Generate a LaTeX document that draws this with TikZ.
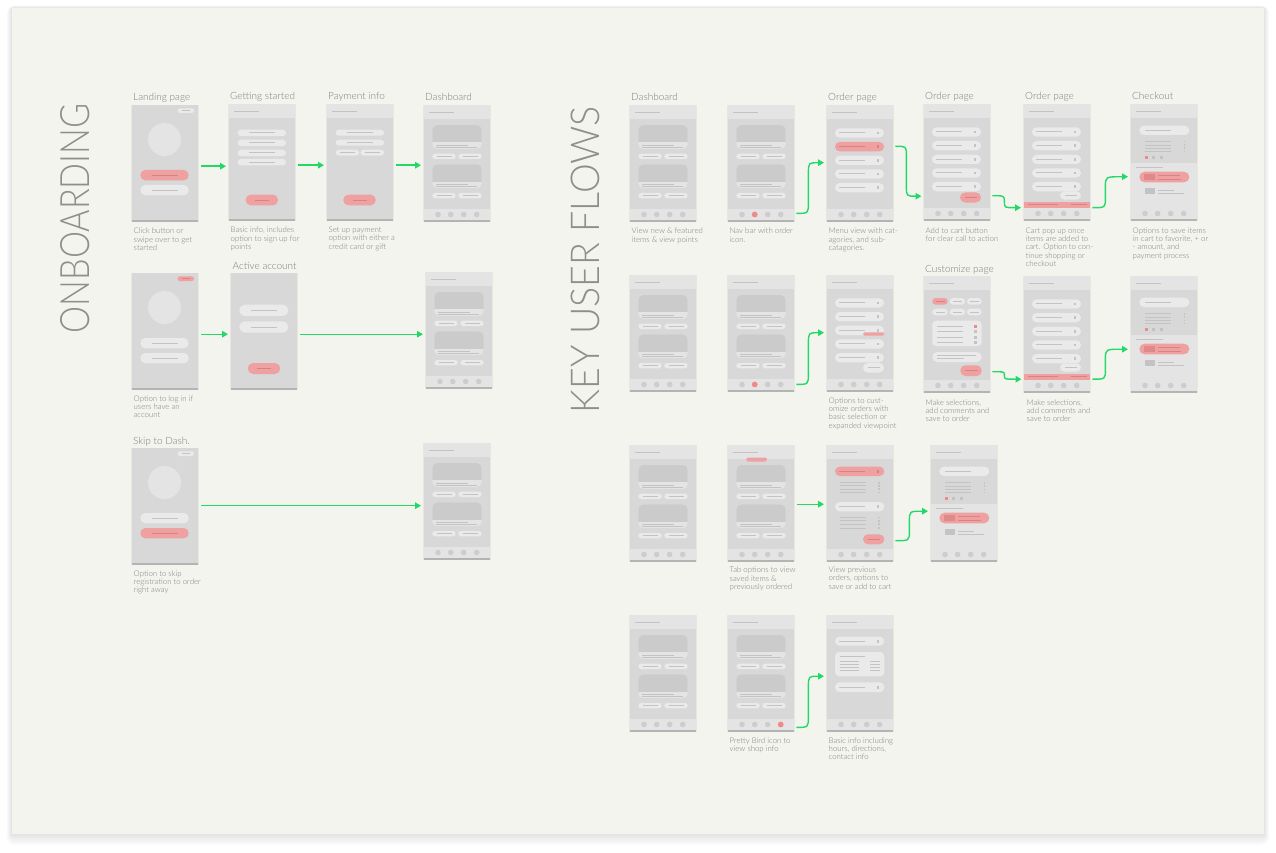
\documentclass[tikz,border=0pt]{standalone}
\usepackage{fontspec}
\usepackage{graphicx}
\IfFontExistsTF{Lato Light}{\setmainfont{Lato Light}}{\setmainfont{Lato}}
\usetikzlibrary{arrows.meta,calc}

\definecolor{paper}{HTML}{F4F4EF}
\definecolor{scr}{HTML}{D8D8D8}
\definecolor{bar}{HTML}{E4E4E4}
\definecolor{pillc}{HTML}{EAEAEA}
\definecolor{linec}{HTML}{C3C3C3}
\definecolor{imgc}{HTML}{CBCBCB}
\definecolor{dotc}{HTML}{CDCDCD}
\definecolor{redc}{HTML}{EFA0A0}
\definecolor{redln}{HTML}{D98282}
\definecolor{reddot}{HTML}{EE8A8A}
\definecolor{flowc}{HTML}{22D866}
\definecolor{txt}{HTML}{7C7C7C}
\definecolor{headc}{HTML}{8E8E8E}
\definecolor{edgec}{HTML}{B4B4B4}

\tikzset{
  body/.style={fill=scr, draw=none, inner sep=0pt, minimum width=66pt,
    minimum height=115pt, anchor=north west},
  ln/.style={draw=linec, line width=1pt},
  hair/.style={draw=linec, line width=0.75pt},
  rln/.style={draw=redln, line width=1pt},
  pf g/.style={fill=pillc}, pf r/.style={fill=redc},
  pl g/.style={draw=linec, line width=0.85pt},
  pl r/.style={draw=redln, line width=0.85pt},
  flow/.style={draw=flowc, line width=1.4pt,
    -{Triangle[length=6pt,width=6.5pt]}},
  screentitle/.style={text=txt, font=\fontsize{10}{10}\selectfont,
    anchor=base west, inner sep=0pt},
  note/.style={text=txt, font=\fontsize{7.8}{8.3}\selectfont,
    anchor=north west, inner sep=0pt, align=left},
  bigtitle/.style={text=headc, rotate=90, inner sep=0pt},
}

% frame of a phone screen: soft shadow, darker lower edge, grey body
\newcommand\phonebase{%
  \fill[black, opacity=0.05] (-0.8,-0.4) rectangle (66.8,117.4);
  \fill[edgec] (0,1.5) rectangle (66,116.8);
  \node[body] (-body) at (0,0) {};}
% light header band with its title line
\newcommand\phonehead{%
  \fill[bar] (0,0) rectangle (66,14);
  \draw[ln] (5,7.7) -- (30,7.7);}
% bottom navigation bar; #1 = index of the highlighted icon (0 = none)
\newcommand\phonenav[1]{%
  \fill[bar] (0,104) rectangle (66,115);
  \foreach \i/\dx in {1/14,2/26.7,3/39.7,4/52.7}{%
    \ifnum\i=#1\relax
      \fill[reddot] (\dx,109.5) circle[radius=2.9pt];
    \else
      \fill[dotc] (\dx,109.5) circle[radius=2.8pt];
    \fi}}
% list row with a label line and a small square; #2 = 1 when highlighted
\newcommand\listpill[2]{%
  \ifnum#2=1\relax
    \fill[redc, rounded corners=4.6pt] (8,#1) rectangle (57,#1+9.3);
    \draw[rln] (12,#1+4.65) -- (38.3,#1+4.65);
    \fill[redln] (49.6,#1+3.25) rectangle (52.4,#1+6.05);
  \else
    \fill[pillc, rounded corners=4.6pt] (8,#1) rectangle (57,#1+9.3);
    \draw[ln] (12,#1+4.65) -- (38.3,#1+4.65);
    \fill[linec] (49.6,#1+3.25) rectangle (52.4,#1+6.05);
  \fi}

\tikzset{
  % splash screen: avatar circle and two buttons
  pics/landing/.style n args={3}{code={
    \phonebase
    \fill[pf #1, rounded corners=2.3pt] (45.5,3.3) rectangle (62,8);
    \draw[pl #1] (50,5.65) -- (57.5,5.65);
    \fill[bar] (32.5,34.5) circle[radius=16.5pt];
    \fill[pf #2, rounded corners=5pt] (8.3,65) rectangle (56.7,75.3);
    \draw[pl #2] (20,70.15) -- (45.5,70.15);
    \fill[pf #3, rounded corners=5pt] (8.3,80) rectangle (56.7,90.3);
    \draw[pl #3] (20,85.15) -- (45.5,85.15);
  }},
  % sign-up form
  pics/getstarted/.style={code={
    \phonebase \phonehead
    \foreach \y in {25.7,35.7,45.7,55}{
      \fill[pillc, rounded corners=3.2pt] (8.7,\y) rectangle (57,\y+6.5);
      \draw[ln] (20,\y+3.25) -- (46,\y+3.25);}
    \fill[redc, rounded corners=5pt] (16.7,90.7) rectangle (49,101.3);
    \draw[rln] (26,96) -- (40,96);
  }},
  % payment form
  pics/payment/.style={code={
    \phonebase \phonehead
    \foreach \y in {25.7,35.7}{
      \fill[pillc, rounded corners=3pt] (8.7,\y) rectangle (57,\y+6);
      \draw[ln] (20,\y+3) -- (46,\y+3);}
    \fill[pillc, rounded corners=3pt] (8.7,45.7) rectangle (32,51.7);
    \draw[ln] (13,48.7) -- (28,48.7);
    \fill[pillc, rounded corners=3pt] (33.5,45.7) rectangle (57,51.7);
    \draw[ln] (37.5,48.7) -- (52.5,48.7);
    \fill[redc, rounded corners=5pt] (16.3,90.7) rectangle (48.7,101.3);
    \draw[rln] (25.5,96) -- (39.5,96);
  }},
  % log-in form
  pics/activeacct/.style={code={
    \phonebase
    \fill[pillc, rounded corners=5.5pt] (8.3,31.7) rectangle (57.3,43);
    \draw[ln] (20,37.35) -- (45.5,37.35);
    \fill[pillc, rounded corners=5.5pt] (8.3,48.3) rectangle (57.3,59.7);
    \draw[ln] (20,54) -- (45.5,54);
    \fill[redc, rounded corners=5.5pt] (16.7,90) rectangle (49.3,101);
    \draw[rln] (26,95.5) -- (40,95.5);
  }},
  % home feed: two cards; #1 highlighted nav icon, #2 = 1 adds the tab marker
  pics/dashboard/.style 2 args={code={
    \phonebase \phonehead
    \ifnum#2=1\relax
      \fill[redc, rounded corners=2pt] (18.3,12.5) rectangle (39,16.5);
    \fi
    \foreach \y in {20,59.3}{
      \begin{scope}
        \clip[rounded corners=5pt] (8.3,\y) rectangle (57.7,\y+24);
        \fill[bar] (8.3,\y) rectangle (57.7,\y+24);
        \fill[imgc] (8.3,\y) rectangle (57.7,\y+17.3);
      \end{scope}
      \draw[hair] (12.3,\y+20) -- (44.3,\y+20);
      \draw[hair] (12.3,\y+22.4) -- (53.3,\y+22.4);
      \fill[pillc, rounded corners=2.6pt] (8.3,\y+28.7) rectangle (31.7,\y+34);
      \draw[pl g] (12.5,\y+31.35) -- (27.5,\y+31.35);
      \fill[pillc, rounded corners=2.6pt] (34.3,\y+28.7) rectangle (57.7,\y+34);
      \draw[pl g] (38.5,\y+31.35) -- (53.5,\y+31.35);}
    \phonenav{#1}
  }},
  % menu list; #1 highlighted row, #2 extra: 1 cart button, 2 cart bar, 3 options
  pics/orderpage/.style 2 args={code={
    \phonebase \phonehead
    \foreach \i/\y in {1/23.3,2/37,3/50.7,4/64.3,5/78}{
      \ifnum\i=#1\relax \listpill{\y}{1}\else \listpill{\y}{0}\fi}
    \ifcase#2\relax
    \or
      \fill[redc, rounded corners=5pt] (36,88.5) rectangle (57,98.5);
      \draw[rln] (40.5,93.5) -- (52.5,93.5);
    \or
      \fill[pillc, rounded corners=4.2pt] (36,87.5) rectangle (57,95.5);
      \draw[pl g] (40.5,91.5) -- (52.5,91.5);
      \fill[redc] (0,97.5) rectangle (66,104);
      \draw[rln] (4,100.75) -- (34,100.75);
      \draw[rln] (47,100.75) -- (62.5,100.75);
    \or
      \fill[redc, rounded corners=1.6pt] (36,57.3) rectangle (57.3,60.7);
      \fill[pillc, rounded corners=4.8pt] (36,88) rectangle (57,97.6);
      \draw[pl g] (40.5,92.8) -- (52.5,92.8);
    \fi
    \phonenav{0}
  }},
  % cart summary with saved items
  pics/checkout/.style={code={
    \phonebase
    \fill[bar] (0,59) rectangle (66,104);
    \phonehead
    \fill[pillc, rounded corners=4.6pt] (8.3,21.7) rectangle (58.3,31);
    \draw[ln] (13.7,26.35) -- (40.3,26.35);
    \foreach \y in {37.7,41,44.3,47.6}{
      \draw[hair] (13.7,\y) -- (40.3,\y);
      \fill[linec] (52.5,\y-0.8) rectangle (54.1,\y+0.8);}
    \fill[reddot] (14.2,52.2) rectangle (17.2,55.2);
    \fill[linec] (21.2,52.2) rectangle (24.2,55.2);
    \fill[linec] (28.8,52.2) rectangle (31.8,55.2);
    \draw[hair] (5.3,63.7) -- (31.7,63.7);
    \fill[redc, rounded corners=5.3pt] (8.3,67.7) rectangle (58.3,78.3);
    \fill[redln!75!redc] (13,69.7) rectangle (23.7,76);
    \draw[pl r] (27,71.7) -- (48.7,71.7);
    \draw[pl r] (27,75.3) -- (50,75.3);
    \fill[linec] (13.7,84.3) rectangle (24.3,90.3);
    \draw[hair] (27,86.3) -- (43,86.3);
    \draw[hair] (27,89.3) -- (53.3,89.3);
    \phonenav{0}
  }},
  % item options, comment box and save button
  pics/customize/.style={code={
    \phonebase \phonehead
    \fill[redc, rounded corners=3.3pt] (8.3,22) rectangle (23.7,28.7);
    \draw[pl r] (11.5,25.35) -- (20.5,25.35);
    \foreach \a/\b in {25.7/41,43/57.7}{
      \fill[pillc, rounded corners=3.3pt] (\a,22) rectangle (\b,28.7);
      \draw[pl g] (\a+3.2,25.35) -- (\b-3.2,25.35);}
    \foreach \a/\b in {8.3/23.7,25.7/41,43/57.7}{
      \fill[pillc, rounded corners=3.3pt] (\a,32.7) rectangle (\b,39.3);
      \draw[pl g] (\a+3.2,36) -- (\b-3.2,36);}
    \fill[pillc, rounded corners=4pt] (8.3,44.7) rectangle (57.7,70);
    \foreach \y [count=\k] in {50.3,55.7,61,66.3}{
      \draw[ln] (13,\y) -- (39,\y);
      \ifnum\k=1\relax
        \fill[reddot] (50.2,\y-1.5) rectangle (53.2,\y+1.5);
      \else
        \fill[linec] (50.2,\y-1.5) rectangle (53.2,\y+1.5);
      \fi}
    \fill[pillc, rounded corners=5pt] (8.3,76) rectangle (57.7,86);
    \draw[hair] (13,79.5) -- (52,79.5);
    \draw[hair] (13,82.5) -- (40,82.5);
    \fill[redc, rounded corners=5pt] (36.3,89.3) rectangle (57.7,100);
    \draw[rln] (40.5,94.65) -- (53.5,94.65);
    \phonenav{0}
  }},
  % previous orders with details
  pics/prevorders/.style={code={
    \phonebase \phonehead
    \fill[redc, rounded corners=4.6pt] (8,21.7) rectangle (57.3,31);
    \draw[rln] (12,26.35) -- (38,26.35);
    \fill[redln] (49.6,24.95) rectangle (52.4,27.75);
    \foreach \y in {37.7,40.7,44,47.3}{
      \draw[hair] (12.7,\y) -- (39.3,\y);
      \fill[linec] (51.2,\y-0.8) rectangle (52.8,\y+0.8);}
    \fill[pillc, rounded corners=4.6pt] (8,57) rectangle (57.3,66.3);
    \draw[ln] (12,61.65) -- (38,61.65);
    \fill[linec] (49.6,60.25) rectangle (52.4,63.05);
    \foreach \y in {72.3,75.7,79,83}{
      \draw[hair] (12.7,\y) -- (39.3,\y);
      \fill[linec] (51.2,\y-0.8) rectangle (52.8,\y+0.8);}
    \fill[redc, rounded corners=5pt] (36,89.3) rectangle (57.3,99.3);
    \draw[rln] (40.5,94.3) -- (52.8,94.3);
    \phonenav{0}
  }},
  % shop information
  pics/shopinfo/.style={code={
    \phonebase \phonehead
    \fill[pillc, rounded corners=4.5pt] (8,21.7) rectangle (57.3,30.7);
    \draw[ln] (12,26.2) -- (38,26.2);
    \fill[linec] (49.6,24.8) rectangle (52.4,27.6);
    \fill[pillc, rounded corners=4pt] (8,37) rectangle (57.3,61.3);
    \draw[hair] (12.7,41.7) -- (38.3,41.7);
    \foreach \y in {46.7,49.5,52.3,55.2}{
      \draw[hair] (12.7,\y) -- (31.7,\y);
      \draw[hair] (43.3,\y) -- (52.7,\y);}
    \fill[pillc, rounded corners=4.5pt] (8,67.3) rectangle (57.3,77);
    \draw[ln] (12,72.15) -- (38,72.15);
    \fill[linec] (49.6,70.75) rectangle (52.4,73.55);
    \phonenav{0}
  }},
}

% straight connector between two screens on one row; #3 = drop below centre
\newcommand\straightflow[3]{%
  \draw[flow] ($(#1.east)+(3,#3)$) -- ($(#1.east -| #2.west)+(-3,#3)$);}
% S-shaped connector rising from #1 to #2; #3 = x of the vertical run, #4 = bend
\newcommand\riseflow[4]{%
  \draw[flow] (#1) .. controls ($(#1)+(#3,0)$) .. ($(#1)+(#3,-#4)$)
    -- ($(#2 -| #1)+(#3,#4)$) .. controls ($(#2 -| #1)+(#3,0)$) .. (#2);}
% S-shaped connector falling from #1 to #2
\newcommand\fallflow[4]{%
  \draw[flow] (#1) .. controls ($(#1)+(#3,0)$) .. ($(#1)+(#3,#4)$)
    -- ($(#2 -| #1)+(#3,-#4)$) .. controls ($(#2 -| #1)+(#3,0)$) .. (#2);}

\begin{document}
\begin{tikzpicture}[x=1pt, y=-1pt]
\useasboundingbox (0,0) rectangle (1276,853);
\fill[white] (0,0) rectangle (1276,853);
% sheet with a soft shadow
\foreach \s in {1,...,9}{
  \fill[black, opacity=0.012, rounded corners=\s pt]
    (12-0.6*\s,8-0.3*\s) rectangle (1264+0.6*\s,834+1.3*\s);}
\fill[paper] (12,8) rectangle (1264,834);

% section headings
\node[bigtitle] (obhead) at (75.3,218.3)
  {\resizebox{230pt}{29pt}{\fontsize{40}{40}\selectfont ONBOARDING}};
\node[bigtitle] (kufhead) at (585.8,259.5)
  {\resizebox{307pt}{28.5pt}{\fontsize{40}{40}\selectfont KEY USER FLOWS}};

% onboarding screens
\pic (ob1) at (132,105) {landing={g}{r}{g}};
\pic (ob2) at (229,104) {getstarted};
\pic (ob3) at (327,104) {payment};
\pic (ob4) at (424,105) {dashboard={0}{0}};
\pic (ob5) at (132,273) {landing={r}{g}{g}};
\pic (ob6) at (231,273) {activeacct};
\pic (ob7) at (426,272) {dashboard={0}{0}};
\pic (ob8) at (132,448) {landing={g}{g}{r}};
\pic (ob9) at (424,443) {dashboard={0}{0}};

% key user flow screens
\pic (k11) at (630,105) {dashboard={0}{0}};
\pic (k12) at (728,105) {dashboard={2}{0}};
\pic (k13) at (827,105) {orderpage={2}{0}};
\pic (k14) at (924,104) {orderpage={0}{1}};
\pic (k15) at (1024,104) {orderpage={0}{2}};
\pic (k16) at (1131,104) {checkout};
\pic (k21) at (630,275) {dashboard={0}{0}};
\pic (k22) at (728,275) {dashboard={2}{0}};
\pic (k23) at (827,275) {orderpage={0}{3}};
\pic (k24) at (924,276) {customize};
\pic (k25) at (1024,276) {orderpage={0}{2}};
\pic (k26) at (1131,276) {checkout};
\pic (k31) at (630,445) {dashboard={0}{0}};
\pic (k32) at (728,445) {dashboard={0}{1}};
\pic (k33) at (827,445) {prevorders};
\pic (k34) at (931,445) {checkout};
\pic (k41) at (630,615) {dashboard={0}{0}};
\pic (k42) at (728,615) {dashboard={4}{0}};
\pic (k43) at (827,615) {shopinfo};

% screen titles
\node[screentitle] (ob1-t) at ([xshift=1pt,yshift=4.5pt]ob1-body.north west) {Landing page};
\node[screentitle] (ob2-t) at ([xshift=1pt,yshift=4.5pt]ob2-body.north west) {Getting started};
\node[screentitle] (ob3-t) at ([xshift=1pt,yshift=4.5pt]ob3-body.north west) {Payment info};
\node[screentitle] (ob4-t) at ([xshift=1pt,yshift=4.5pt]ob4-body.north west) {Dashboard};
\node[screentitle] (ob6-t) at ([xshift=1.5pt,yshift=3.5pt]ob6-body.north west) {Active account};
\node[screentitle] (ob8-t) at ([xshift=1pt,yshift=3.5pt]ob8-body.north west) {Skip to Dash.};
\node[screentitle] (k11-t) at ([xshift=1pt,yshift=4.5pt]k11-body.north west) {Dashboard};
\node[screentitle] (k13-t) at ([xshift=1pt,yshift=4.5pt]k13-body.north west) {Order page};
\node[screentitle] (k14-t) at ([xshift=1pt,yshift=4pt]k14-body.north west) {Order page};
\node[screentitle] (k15-t) at ([xshift=1pt,yshift=4pt]k15-body.north west) {Order page};
\node[screentitle] (k16-t) at ([xshift=1pt,yshift=4pt]k16-body.north west) {Checkout};
\node[screentitle] (k24-t) at ([xshift=1pt,yshift=4pt]k24-body.north west) {Customize page};

% captions
\node[note] (ob1-c) at ([xshift=1.5pt,yshift=-7.5pt]ob1-body.south west) {Click button or\\swipe over to get\\started};
\node[note] (ob2-c) at ([xshift=1.5pt,yshift=-7.5pt]ob2-body.south west) {Basic info, includes\\option to sign up for\\points};
\node[note] (ob3-c) at ([xshift=1.5pt,yshift=-7.5pt]ob3-body.south west) {Set up payment\\option with either a\\credit card or gift};
\node[note] (ob5-c) at ([xshift=1.5pt,yshift=-7pt]ob5-body.south west) {Option to log in if\\users have an\\account};
\node[note] (ob8-c) at ([xshift=1.5pt,yshift=-7pt]ob8-body.south west) {Option to skip\\registration to order\\right away};
\node[note] (k11-c) at ([xshift=1.5pt,yshift=-7.5pt]k11-body.south west) {View new \& featured\\items \& view points};
\node[note] (k12-c) at ([xshift=1.5pt,yshift=-7.5pt]k12-body.south west) {Nav bar with order\\icon.};
\node[note] (k13-c) at ([xshift=1.5pt,yshift=-7.5pt]k13-body.south west) {Menu view with cat-\\agories, and sub-\\catagories.};
\node[note] (k14-c) at ([xshift=1.5pt,yshift=-8pt]k14-body.south west) {Add to cart button\\for clear call to action};
\node[note] (k15-c) at ([xshift=1.5pt,yshift=-8pt]k15-body.south west) {Cart pop up once\\items are added to\\cart. Option to con-\\tinue shopping or\\checkout};
\node[note] (k16-c) at ([xshift=1.5pt,yshift=-8pt]k16-body.south west) {Options to save items\\in cart to favorite, + or\\- amount, and\\payment process};
\node[note] (k23-c) at ([xshift=1.5pt,yshift=-7pt]k23-body.south west) {Options to cust-\\omize orders with\\basic selection or\\expanded viewpoint};
\node[note] (k24-c) at ([xshift=1.5pt,yshift=-8pt]k24-body.south west) {Make selections,\\add comments and\\save to order};
\node[note] (k25-c) at ([xshift=2.5pt,yshift=-8pt]k25-body.south west) {Make selections,\\add comments and\\save to order};
\node[note] (k32-c) at ([xshift=1.5pt,yshift=-6.5pt]k32-body.south west) {Tab options to view\\saved items \&\\previously ordered};
\node[note] (k33-c) at ([xshift=1.5pt,yshift=-6.5pt]k33-body.south west) {View previous\\orders, options to\\save or add to cart};
\node[note] (k42-c) at ([xshift=1.5pt,yshift=-7pt]k42-body.south west) {Pretty Bird icon to\\view shop info};
\node[note] (k43-c) at ([xshift=1.5pt,yshift=-7pt]k43-body.south west) {Basic info including\\hours, directions,\\contact info};

% onboarding connectors
\straightflow{ob1-body}{ob2-body}{3.5}
\straightflow{ob2-body}{ob3-body}{3.5}
\straightflow{ob3-body}{ob4-body}{3.5}
\straightflow{ob5-body}{ob6-body}{3.5}
\straightflow{ob6-body}{ob7-body}{3.5}
\straightflow{ob8-body}{ob9-body}{0}

% user flow connectors
\coordinate (f1s) at ($(k12-body.south east)+(2,-7)$);
\coordinate (f1e) at ($(k13-body.west)+(-3,0)$);
\riseflow{f1s}{f1e}{12}{11}
\coordinate (f2s) at ($(k13-body.east)+(2,-16.5)$);
\coordinate (f2e) at ($(k14-body.west)+(-2.5,34.5)$);
\fallflow{f2s}{f2e}{11}{10}
\coordinate (f3s) at ($(k14-body.east)+(2,34)$);
\coordinate (f3e) at ($(k15-body.west)+(-3,46)$);
\fallflow{f3s}{f3e}{12}{6}
\coordinate (f4s) at ($(k15-body.east)+(2,46)$);
\coordinate (f4e) at ($(k16-body.west)+(-3,15)$);
\riseflow{f4s}{f4e}{13}{10}
\coordinate (f5s) at ($(k22-body.south east)+(2,-6)$);
\coordinate (f5e) at ($(k23-body.west)+(-3,0)$);
\riseflow{f5s}{f5e}{12}{11}
\coordinate (f6s) at ($(k24-body.east)+(2,38)$);
\coordinate (f6e) at ($(k25-body.west)+(-2.5,45.5)$);
\fallflow{f6s}{f6e}{12}{3.5}
\coordinate (f7s) at ($(k25-body.east)+(2,45.5)$);
\coordinate (f7e) at ($(k26-body.west)+(-3,15.5)$);
\riseflow{f7s}{f7e}{13}{10}
\straightflow{k32-body}{k33-body}{1.5}
\coordinate (f8s) at ($(k33-body.east)+(2,38)$);
\coordinate (f8e) at ($(k34-body.west)+(-3,8.5)$);
\riseflow{f8s}{f8e}{14}{10}
\coordinate (f9s) at ($(k42-body.south east)+(2,-3)$);
\coordinate (f9e) at ($(k43-body.west)+(-3,3.5)$);
\riseflow{f9s}{f9e}{12}{11}
\end{tikzpicture}
\end{document}
